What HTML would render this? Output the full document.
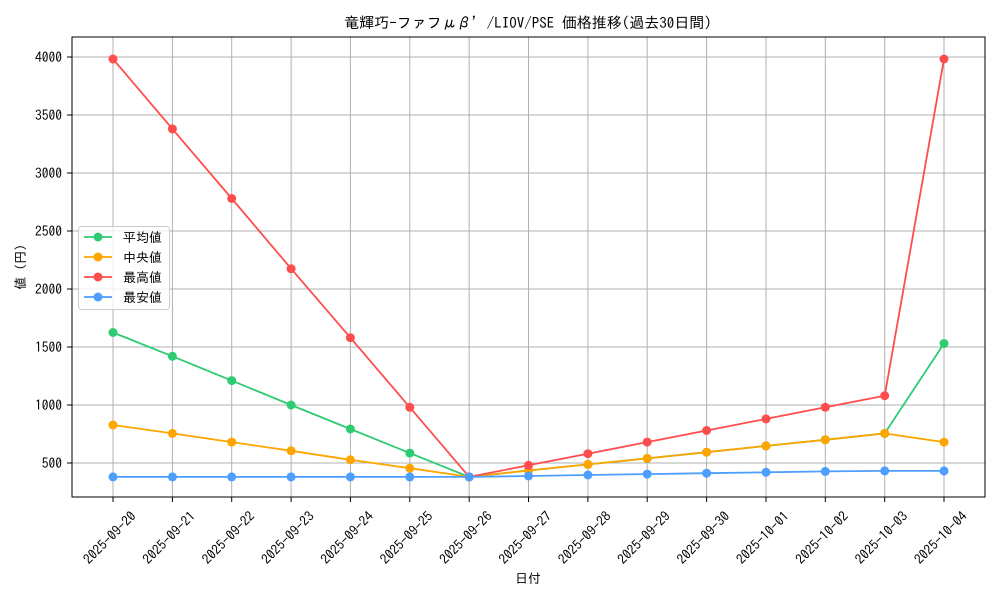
<!DOCTYPE html><html><head><meta charset="utf-8"><style>body{margin:0;background:#fff}svg{display:block;font-family:"IPAGothic","Liberation Sans","Noto Sans CJK JP",sans-serif}</style></head><body>
<svg width="1000" height="600" xmlns="http://www.w3.org/2000/svg">
<rect width="1000" height="600" fill="#fff"/>
<g stroke="#b0b0b0" stroke-width="1">
<line x1="113" y1="37" x2="113" y2="497"/><line x1="172.4" y1="37" x2="172.4" y2="497"/><line x1="231.7" y1="37" x2="231.7" y2="497"/><line x1="291.1" y1="37" x2="291.1" y2="497"/><line x1="350.4" y1="37" x2="350.4" y2="497"/><line x1="409.8" y1="37" x2="409.8" y2="497"/><line x1="469.2" y1="37" x2="469.2" y2="497"/><line x1="528.5" y1="37" x2="528.5" y2="497"/><line x1="587.9" y1="37" x2="587.9" y2="497"/><line x1="647.2" y1="37" x2="647.2" y2="497"/><line x1="706.6" y1="37" x2="706.6" y2="497"/><line x1="766" y1="37" x2="766" y2="497"/><line x1="825.3" y1="37" x2="825.3" y2="497"/><line x1="884.7" y1="37" x2="884.7" y2="497"/><line x1="944" y1="37" x2="944" y2="497"/>
<line x1="72" y1="463" x2="985" y2="463"/><line x1="72" y1="405" x2="985" y2="405"/><line x1="72" y1="347" x2="985" y2="347"/><line x1="72" y1="289" x2="985" y2="289"/><line x1="72" y1="231" x2="985" y2="231"/><line x1="72" y1="173" x2="985" y2="173"/><line x1="72" y1="115" x2="985" y2="115"/><line x1="72" y1="57" x2="985" y2="57"/>
</g>
<rect x="72" y="37" width="913" height="460" fill="none" stroke="#000" stroke-width="1"/>
<g stroke="#000"><line x1="67" y1="463" x2="72" y2="463"/><line x1="67" y1="405" x2="72" y2="405"/><line x1="67" y1="347" x2="72" y2="347"/><line x1="67" y1="289" x2="72" y2="289"/><line x1="67" y1="231" x2="72" y2="231"/><line x1="67" y1="173" x2="72" y2="173"/><line x1="67" y1="115" x2="72" y2="115"/><line x1="67" y1="57" x2="72" y2="57"/></g>
<g font-size="13.5" text-anchor="end" fill="#000">
<text x="62" y="468">500</text><text x="62" y="410">1000</text><text x="62" y="352">1500</text><text x="62" y="294">2000</text><text x="62" y="236">2500</text><text x="62" y="178">3000</text><text x="62" y="120">3500</text><text x="62" y="62">4000</text>
</g>
<g font-size="13.5" text-anchor="middle" fill="#000">
<text transform="translate(113,541) rotate(-45)">2025-09-20</text>
<text transform="translate(172.4,541) rotate(-45)">2025-09-21</text>
<text transform="translate(231.7,541) rotate(-45)">2025-09-22</text>
<text transform="translate(291.1,541) rotate(-45)">2025-09-23</text>
<text transform="translate(350.4,541) rotate(-45)">2025-09-24</text>
<text transform="translate(409.8,541) rotate(-45)">2025-09-25</text>
<text transform="translate(469.2,541) rotate(-45)">2025-09-26</text>
<text transform="translate(528.5,541) rotate(-45)">2025-09-27</text>
<text transform="translate(587.9,541) rotate(-45)">2025-09-28</text>
<text transform="translate(647.2,541) rotate(-45)">2025-09-29</text>
<text transform="translate(706.6,541) rotate(-45)">2025-09-30</text>
<text transform="translate(766,541) rotate(-45)">2025-10-01</text>
<text transform="translate(825.3,541) rotate(-45)">2025-10-02</text>
<text transform="translate(884.7,541) rotate(-45)">2025-10-03</text>
<text transform="translate(944,541) rotate(-45)">2025-10-04</text>
</g>
<g stroke="#000"><line x1="113" y1="497" x2="113" y2="502"/><line x1="172.4" y1="497" x2="172.4" y2="502"/><line x1="231.7" y1="497" x2="231.7" y2="502"/><line x1="291.1" y1="497" x2="291.1" y2="502"/><line x1="350.4" y1="497" x2="350.4" y2="502"/><line x1="409.8" y1="497" x2="409.8" y2="502"/><line x1="469.2" y1="497" x2="469.2" y2="502"/><line x1="528.5" y1="497" x2="528.5" y2="502"/><line x1="587.9" y1="497" x2="587.9" y2="502"/><line x1="647.2" y1="497" x2="647.2" y2="502"/><line x1="706.6" y1="497" x2="706.6" y2="502"/><line x1="766" y1="497" x2="766" y2="502"/><line x1="825.3" y1="497" x2="825.3" y2="502"/><line x1="884.7" y1="497" x2="884.7" y2="502"/><line x1="944" y1="497" x2="944" y2="502"/></g>
<text x="528" y="583" font-size="13" text-anchor="middle">日付</text>
<text transform="translate(25,267) rotate(-90)" font-size="13" text-anchor="middle">値 (円)</text>
<text x="528" y="28" font-size="15" text-anchor="middle">竜輝巧-ファフμβ’/LIOV/PSE 価格推移(過去30日間)</text>
<g fill="none" stroke-width="1.8">
<polyline stroke="#2ecc71" points="113,332.5 172.4,356.3 231.7,380.6 291.1,405 350.4,429 409.8,453.1 469.2,476.9 528.5,470.5 587.9,464.4 647.2,458.4 706.6,452.2 766,445.9 825.3,439.8 884.7,433.4 944,343.5"/>
<polyline stroke="#ffa500" points="113,425 172.4,433.4 231.7,442.1 291.1,450.8 350.4,459.8 409.8,468.2 469.2,476.9 528.5,470.5 587.9,464.4 647.2,458.4 706.6,452.2 766,445.9 825.3,439.8 884.7,433.4 944,442.1"/>
<polyline stroke="#ff4d4d" points="113,59 172.4,128.9 231.7,198.5 291.1,268.7 350.4,337.7 409.8,407.3 469.2,476.9 528.5,465.3 587.9,453.7 647.2,442.1 706.6,430.5 766,418.9 825.3,407.3 884.7,395.7 944,59"/>
<polyline stroke="#4d9eff" points="113,476.9 172.4,476.9 231.7,476.9 291.1,476.9 350.4,476.9 409.8,476.9 469.2,476.9 528.5,476 587.9,475 647.2,474.1 706.6,473.2 766,472.3 825.3,471.4 884.7,470.9 944,470.9"/>
</g>
<g fill="#2ecc71"><circle cx="113" cy="332.5" r="4.5"/><circle cx="172.4" cy="356.3" r="4.5"/><circle cx="231.7" cy="380.6" r="4.5"/><circle cx="291.1" cy="405" r="4.5"/><circle cx="350.4" cy="429" r="4.5"/><circle cx="409.8" cy="453.1" r="4.5"/><circle cx="469.2" cy="476.9" r="4.5"/><circle cx="528.5" cy="470.5" r="4.5"/><circle cx="587.9" cy="464.4" r="4.5"/><circle cx="647.2" cy="458.4" r="4.5"/><circle cx="706.6" cy="452.2" r="4.5"/><circle cx="766" cy="445.9" r="4.5"/><circle cx="825.3" cy="439.8" r="4.5"/><circle cx="884.7" cy="433.4" r="4.5"/><circle cx="944" cy="343.5" r="4.5"/></g>
<g fill="#ffa500"><circle cx="113" cy="425" r="4.5"/><circle cx="172.4" cy="433.4" r="4.5"/><circle cx="231.7" cy="442.1" r="4.5"/><circle cx="291.1" cy="450.8" r="4.5"/><circle cx="350.4" cy="459.8" r="4.5"/><circle cx="409.8" cy="468.2" r="4.5"/><circle cx="469.2" cy="476.9" r="4.5"/><circle cx="528.5" cy="470.5" r="4.5"/><circle cx="587.9" cy="464.4" r="4.5"/><circle cx="647.2" cy="458.4" r="4.5"/><circle cx="706.6" cy="452.2" r="4.5"/><circle cx="766" cy="445.9" r="4.5"/><circle cx="825.3" cy="439.8" r="4.5"/><circle cx="884.7" cy="433.4" r="4.5"/><circle cx="944" cy="442.1" r="4.5"/></g>
<g fill="#ff4d4d"><circle cx="113" cy="59" r="4.5"/><circle cx="172.4" cy="128.9" r="4.5"/><circle cx="231.7" cy="198.5" r="4.5"/><circle cx="291.1" cy="268.7" r="4.5"/><circle cx="350.4" cy="337.7" r="4.5"/><circle cx="409.8" cy="407.3" r="4.5"/><circle cx="469.2" cy="476.9" r="4.5"/><circle cx="528.5" cy="465.3" r="4.5"/><circle cx="587.9" cy="453.7" r="4.5"/><circle cx="647.2" cy="442.1" r="4.5"/><circle cx="706.6" cy="430.5" r="4.5"/><circle cx="766" cy="418.9" r="4.5"/><circle cx="825.3" cy="407.3" r="4.5"/><circle cx="884.7" cy="395.7" r="4.5"/><circle cx="944" cy="59" r="4.5"/></g>
<g fill="#4d9eff"><circle cx="113" cy="476.9" r="4.5"/><circle cx="172.4" cy="476.9" r="4.5"/><circle cx="231.7" cy="476.9" r="4.5"/><circle cx="291.1" cy="476.9" r="4.5"/><circle cx="350.4" cy="476.9" r="4.5"/><circle cx="409.8" cy="476.9" r="4.5"/><circle cx="469.2" cy="476.9" r="4.5"/><circle cx="528.5" cy="476" r="4.5"/><circle cx="587.9" cy="475" r="4.5"/><circle cx="647.2" cy="474.1" r="4.5"/><circle cx="706.6" cy="473.2" r="4.5"/><circle cx="766" cy="472.3" r="4.5"/><circle cx="825.3" cy="471.4" r="4.5"/><circle cx="884.7" cy="470.9" r="4.5"/><circle cx="944" cy="470.9" r="4.5"/></g>
<rect x="78.5" y="226.5" width="91" height="83" rx="3" fill="#fff" fill-opacity="0.8" stroke="#ccc"/>
<g stroke-width="1.8">
<line x1="84" y1="237" x2="112" y2="237" stroke="#2ecc71"/><circle cx="98" cy="237" r="4.5" fill="#2ecc71"/>
<line x1="84" y1="257" x2="112" y2="257" stroke="#ffa500"/><circle cx="98" cy="257" r="4.5" fill="#ffa500"/>
<line x1="84" y1="277" x2="112" y2="277" stroke="#ff4d4d"/><circle cx="98" cy="277" r="4.5" fill="#ff4d4d"/>
<line x1="84" y1="297" x2="112" y2="297" stroke="#4d9eff"/><circle cx="98" cy="297" r="4.5" fill="#4d9eff"/>
</g>
<g font-size="13"><text x="123" y="242">平均値</text><text x="123" y="262">中央値</text><text x="123" y="282">最高値</text><text x="123" y="302">最安値</text></g>
</svg></body></html>
